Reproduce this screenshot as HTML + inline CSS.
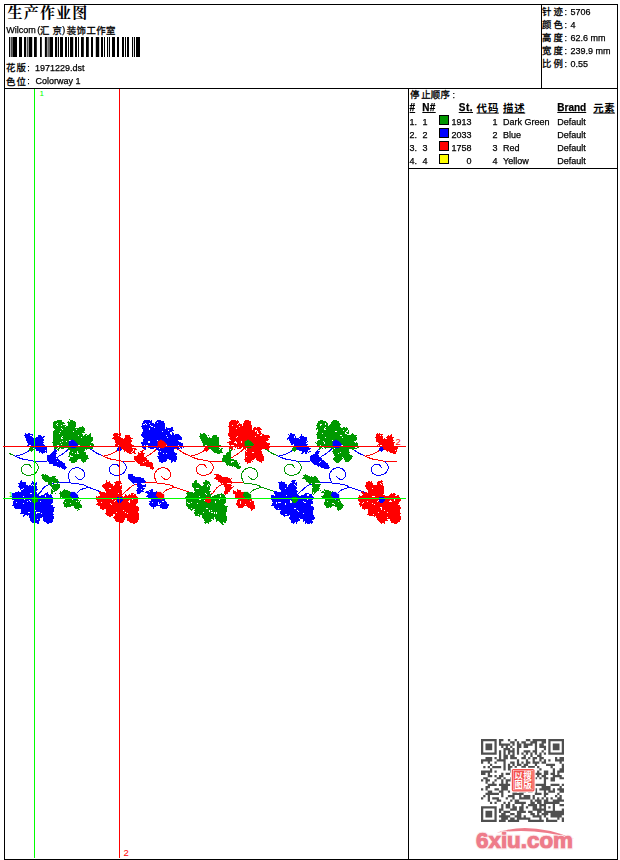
<!DOCTYPE html>
<html><head><meta charset="utf-8"><title>Production Worksheet</title>
<style>
html,body{margin:0;padding:0;background:#fff;}
body{width:620px;height:860px;position:relative;overflow:hidden;font-family:"Liberation Sans",sans-serif;}
svg.main{position:absolute;left:0;top:0;}
.t{position:absolute;white-space:pre;font-family:"Liberation Sans",sans-serif;-webkit-text-stroke:0.25px currentColor;}
#txt{position:absolute;left:0;top:0;width:620px;height:860px;will-change:transform;}
</style></head><body>
<svg class="main" width="620" height="860" viewBox="0 0 620 860">
<defs><filter id="rough" x="0" y="400" width="420" height="140" filterUnits="userSpaceOnUse"><feTurbulence type="fractalNoise" baseFrequency="0.45" numOctaves="1" seed="4" result="n"/><feDisplacementMap in="SourceGraphic" in2="n" scale="4.2" xChannelSelector="R" yChannelSelector="G" result="d"/><feComponentTransfer in="d"><feFuncA type="discrete" tableValues="0 1"/></feComponentTransfer></filter><pattern id="spk" width="48" height="48" patternUnits="userSpaceOnUse"><g fill="#fff"><rect x="20" y="9" width="1" height="1"/><rect x="21" y="10" width="1" height="1"/><rect x="3" y="4" width="1" height="1"/><rect x="6" y="23" width="1" height="1"/><rect x="32" y="13" width="1" height="1"/><rect x="33" y="14" width="1" height="1"/><rect x="27" y="26" width="1" height="1"/><rect x="28" y="27" width="1" height="1"/><rect x="5" y="35" width="1" height="1"/><rect x="6" y="36" width="1" height="1"/><rect x="36" y="7" width="1" height="1"/><rect x="40" y="40" width="1" height="1"/><rect x="3" y="36" width="1" height="1"/><rect x="3" y="14" width="1" height="1"/><rect x="4" y="15" width="1" height="1"/><rect x="8" y="18" width="1" height="1"/><rect x="9" y="19" width="1" height="1"/><rect x="34" y="7" width="1" height="1"/><rect x="35" y="43" width="1" height="1"/><rect x="36" y="44" width="1" height="1"/><rect x="37" y="36" width="1" height="1"/><rect x="23" y="6" width="1" height="1"/><rect x="4" y="36" width="1" height="1"/><rect x="5" y="37" width="1" height="1"/><rect x="13" y="31" width="1" height="1"/><rect x="27" y="20" width="1" height="1"/><rect x="29" y="23" width="1" height="1"/><rect x="30" y="24" width="1" height="1"/><rect x="11" y="44" width="1" height="1"/><rect x="5" y="36" width="1" height="1"/><rect x="6" y="37" width="1" height="1"/><rect x="31" y="21" width="1" height="1"/><rect x="18" y="38" width="1" height="1"/><rect x="7" y="32" width="1" height="1"/><rect x="8" y="33" width="1" height="1"/><rect x="21" y="9" width="1" height="1"/><rect x="26" y="2" width="1" height="1"/><rect x="4" y="35" width="1" height="1"/><rect x="20" y="21" width="1" height="1"/><rect x="38" y="31" width="1" height="1"/><rect x="29" y="4" width="1" height="1"/><rect x="17" y="30" width="1" height="1"/><rect x="4" y="3" width="1" height="1"/><rect x="19" y="41" width="1" height="1"/><rect x="43" y="28" width="1" height="1"/><rect x="44" y="29" width="1" height="1"/><rect x="24" y="42" width="1" height="1"/><rect x="25" y="43" width="1" height="1"/><rect x="29" y="22" width="1" height="1"/><rect x="30" y="23" width="1" height="1"/><rect x="7" y="31" width="1" height="1"/><rect x="8" y="32" width="1" height="1"/><rect x="18" y="8" width="1" height="1"/><rect x="25" y="25" width="1" height="1"/><rect x="31" y="5" width="1" height="1"/><rect x="32" y="6" width="1" height="1"/><rect x="25" y="35" width="1" height="1"/><rect x="26" y="36" width="1" height="1"/><rect x="8" y="27" width="1" height="1"/><rect x="17" y="45" width="1" height="1"/><rect x="18" y="46" width="1" height="1"/><rect x="22" y="43" width="1" height="1"/><rect x="14" y="9" width="1" height="1"/><rect x="15" y="10" width="1" height="1"/><rect x="9" y="14" width="1" height="1"/><rect x="0" y="31" width="1" height="1"/><rect x="11" y="16" width="1" height="1"/><rect x="12" y="17" width="1" height="1"/><rect x="9" y="26" width="1" height="1"/><rect x="39" y="36" width="1" height="1"/><rect x="40" y="37" width="1" height="1"/><rect x="8" y="44" width="1" height="1"/><rect x="39" y="41" width="1" height="1"/><rect x="3" y="29" width="1" height="1"/><rect x="43" y="35" width="1" height="1"/><rect x="44" y="36" width="1" height="1"/><rect x="25" y="25" width="1" height="1"/><rect x="26" y="26" width="1" height="1"/><rect x="40" y="25" width="1" height="1"/><rect x="41" y="26" width="1" height="1"/><rect x="4" y="13" width="1" height="1"/><rect x="5" y="14" width="1" height="1"/><rect x="7" y="21" width="1" height="1"/><rect x="6" y="0" width="1" height="1"/><rect x="34" y="6" width="1" height="1"/></g></pattern></defs>
<rect x="4" y="4" width="614" height="1" fill="#000"/>
<rect x="4" y="859" width="614" height="1" fill="#000"/>
<rect x="4" y="4" width="1" height="856" fill="#000"/>
<rect x="617" y="4" width="1" height="856" fill="#000"/>
<rect x="4" y="88" width="614" height="1" fill="#000"/>
<rect x="541" y="4" width="1" height="85" fill="#000"/>
<rect x="408" y="88" width="1" height="772" fill="#000"/>
<rect x="408" y="168" width="210" height="1" fill="#000"/>
<g fill="#000"><rect x="9" y="37" width="1.00" height="20"/><rect x="10.7" y="37" width="1.00" height="20"/><rect x="12.4" y="37" width="4.60" height="20"/><rect x="19" y="37" width="3.00" height="20"/><rect x="24" y="37" width="2.00" height="20"/><rect x="26.8" y="37" width="0.90" height="20"/><rect x="28.6" y="37" width="3.60" height="20"/><rect x="34" y="37" width="2.80" height="20"/><rect x="40" y="37" width="1.80" height="20"/><rect x="44.9" y="37" width="2.00" height="20"/><rect x="47.6" y="37" width="1.00" height="20"/><rect x="49.4" y="37" width="3.60" height="20"/><rect x="55" y="37" width="2.20" height="20"/><rect x="58" y="37" width="1.00" height="20"/><rect x="60" y="37" width="3.00" height="20"/><rect x="65" y="37" width="2.00" height="20"/><rect x="68" y="37" width="1.00" height="20"/><rect x="70" y="37" width="3.20" height="20"/><rect x="75" y="37" width="2.00" height="20"/><rect x="78" y="37" width="1.00" height="20"/><rect x="81" y="37" width="2.80" height="20"/><rect x="86" y="37" width="2.80" height="20"/><rect x="91" y="37" width="2.00" height="20"/><rect x="95.8" y="37" width="3.40" height="20"/><rect x="101" y="37" width="2.00" height="20"/><rect x="104" y="37" width="1.00" height="20"/><rect x="107" y="37" width="1.10" height="20"/><rect x="109" y="37" width="1.00" height="20"/><rect x="112" y="37" width="3.00" height="20"/><rect x="117" y="37" width="2.00" height="20"/><rect x="122" y="37" width="2.00" height="20"/><rect x="125" y="37" width="1.00" height="20"/><rect x="127" y="37" width="2.00" height="20"/><rect x="132" y="37" width="1.10" height="20"/><rect x="134" y="37" width="1.00" height="20"/><rect x="136" y="37" width="4.00" height="20"/></g>
<g><title>生产作业图</title><text x="7.5 23.7 39.9 56.1 72.3" y="17.8" font-family="'Liberation Serif','Noto Serif CJK SC',serif" font-weight="bold" font-size="15" fill="#000">生产作业图</text></g>
<g><title>汇京</title><text x="40.1 52.6" y="33.6" font-family="'Liberation Sans','Noto Sans CJK SC',sans-serif" font-size="9.4" fill="#000" stroke="#000" stroke-width="0.3">汇京</text></g>
<g><title>装饰工作室</title><text x="66.7 76.55 86.4 96.25 106.1" y="33.6" font-family="'Liberation Sans','Noto Sans CJK SC',sans-serif" font-size="9.4" fill="#000" stroke="#000" stroke-width="0.3">装饰工作室</text></g>
<g><title>花版</title><text x="6.1 16.4" y="71.2" font-family="'Liberation Sans','Noto Sans CJK SC',sans-serif" font-size="9.4" fill="#000" stroke="#000" stroke-width="0.3">花版</text></g>
<g><title>色位</title><text x="6.1 16.4" y="84.7" font-family="'Liberation Sans','Noto Sans CJK SC',sans-serif" font-size="9.4" fill="#000" stroke="#000" stroke-width="0.3">色位</text></g>
<g><title>针迹</title><text x="542.1 553.4" y="14.5" font-family="'Liberation Sans','Noto Sans CJK SC',sans-serif" font-size="9.4" fill="#000" stroke="#000" stroke-width="0.3">针迹</text></g>
<g><title>颜色</title><text x="542.1 553.4" y="27.5" font-family="'Liberation Sans','Noto Sans CJK SC',sans-serif" font-size="9.4" fill="#000" stroke="#000" stroke-width="0.3">颜色</text></g>
<g><title>高度</title><text x="542.1 553.4" y="40.6" font-family="'Liberation Sans','Noto Sans CJK SC',sans-serif" font-size="9.4" fill="#000" stroke="#000" stroke-width="0.3">高度</text></g>
<g><title>宽度</title><text x="542.1 553.4" y="53.7" font-family="'Liberation Sans','Noto Sans CJK SC',sans-serif" font-size="9.4" fill="#000" stroke="#000" stroke-width="0.3">宽度</text></g>
<g><title>比例</title><text x="542.1 553.4" y="67" font-family="'Liberation Sans','Noto Sans CJK SC',sans-serif" font-size="9.4" fill="#000" stroke="#000" stroke-width="0.3">比例</text></g>
<g><title>停止顺序</title><text x="409.9 421.3 430.7 440.6" y="98.3" font-family="'Liberation Sans','Noto Sans CJK SC',sans-serif" font-size="9.4" fill="#000" stroke="#000" stroke-width="0.3">停止顺序</text></g>
<g><title>代码</title><text x="476.6 487.9" y="111.5" font-family="'Liberation Sans','Noto Sans CJK SC',sans-serif" font-weight="bold" font-size="10.4" fill="#000">代码</text></g>
<rect x="476.6" y="112.6" width="22.2" height="1" fill="#000"/>
<g><title>描述</title><text x="503 514.3" y="111.5" font-family="'Liberation Sans','Noto Sans CJK SC',sans-serif" font-weight="bold" font-size="10.4" fill="#000">描述</text></g>
<rect x="503.0" y="112.6" width="22.2" height="1" fill="#000"/>
<g><title>元素</title><text x="593.3 604.3" y="111.5" font-family="'Liberation Sans','Noto Sans CJK SC',sans-serif" font-weight="bold" font-size="10.4" fill="#000">元素</text></g>
<rect x="593.3" y="112.6" width="21.6" height="1" fill="#000"/>
<rect x="439" y="115" width="10" height="10" fill="#000"/>
<rect x="440" y="116" width="8" height="8" fill="#009600"/>
<rect x="439" y="128" width="10" height="10" fill="#000"/>
<rect x="440" y="129" width="8" height="8" fill="#0000ff"/>
<rect x="439" y="141" width="10" height="10" fill="#000"/>
<rect x="440" y="142" width="8" height="8" fill="#ff0000"/>
<rect x="439" y="154" width="10" height="10" fill="#000"/>
<rect x="440" y="155" width="8" height="8" fill="#ffff00"/>
<g shape-rendering="crispEdges"><g transform="translate(5,410)"><path d="M4.2,43.4L9.1,45.5" fill="none" stroke="#009900" stroke-width="1"/><path d="M9.1,45.5C10.3,46.0 13.8,47.9 16.3,48.7C18.9,49.5 21.7,49.8 24.4,50.3C27.1,50.8 29.6,51.4 32.5,51.5C35.5,51.6 40.5,51.1 42.1,51.0" fill="none" stroke="#0000ff" stroke-width="1"/><path d="M10.7,45.9C11.9,45.6 15.7,45.0 17.9,44.2C20.0,43.4 22.1,42.0 23.6,41.0C25.1,40.0 26.3,38.7 26.8,38.2" fill="none" stroke="#0000ff" stroke-width="1"/><path d="M29.9,51.5C30.4,52.1 32.2,54.0 32.8,55.1C33.3,56.2 33.5,57.2 33.2,58.4C32.9,59.6 32.1,61.3 31.1,62.4C30.1,63.5 28.6,64.3 27.1,64.8C25.6,65.3 23.9,65.9 22.3,65.6C20.8,65.3 18.8,64.3 17.8,63.2C16.9,62.1 16.5,60.1 16.6,58.8C16.7,57.4 17.7,55.9 18.6,55.1C19.6,54.3 21.2,54.0 22.3,54.1C23.4,54.2 24.8,55.2 25.5,55.9C26.2,56.6 26.3,57.8 26.5,58.2" fill="none" stroke="#009900" stroke-width="1"/><path d="M50.6,48.2C51.4,47.7 53.6,46.5 55.4,45.4C57.1,44.2 59.5,42.6 61.1,41.3C62.7,39.9 63.9,38.4 65.1,37.3C66.2,36.2 67.5,35.0 68.0,34.5" fill="none" stroke="#0000ff" stroke-width="1"/><path d="M32.4,85.0C33.0,84.5 34.7,83.0 35.7,81.8C36.7,80.6 37.2,79.2 38.3,78.1C39.4,77.0 40.7,76.1 42.3,75.3C43.9,74.5 45.7,73.9 47.7,73.4C49.7,72.9 51.2,72.3 54.2,72.2C57.2,72.1 62.4,72.7 65.5,73.0C68.6,73.3 70.4,73.5 72.7,73.8C75.0,74.1 77.3,74.4 79.2,75.0C81.1,75.6 81.1,76.2 84.0,77.4C86.9,78.6 91.8,80.3 96.8,82.3C101.8,84.3 111.1,88.2 114.0,89.4" fill="none" stroke="#0000ff" stroke-width="1"/><path d="M71.9,83.1C72.3,82.7 73.4,81.3 74.3,80.6C75.2,79.9 76.2,79.5 77.5,79.0C78.8,78.5 81.0,78.0 82.4,77.8C83.8,77.6 85.2,77.6 85.8,77.6" fill="none" stroke="#0000ff" stroke-width="1"/><path d="M65.5,73.0C65.2,72.2 64.1,69.9 63.8,68.5C63.4,67.1 63.1,65.8 63.4,64.5C63.7,63.2 64.5,61.6 65.5,60.5C66.5,59.4 68.0,58.5 69.5,58.1C71.0,57.7 72.9,57.7 74.3,58.1C75.7,58.5 77.1,59.4 78.0,60.5C78.9,61.6 79.7,63.3 79.8,64.5C79.9,65.7 79.2,66.9 78.4,67.7C77.6,68.5 76.1,69.5 75.1,69.6C74.1,69.7 73.1,69.0 72.3,68.5C71.5,68.0 70.6,66.8 70.3,66.5" fill="none" stroke="#0000ff" stroke-width="1"/></g><g transform="translate(93,410)"><path d="M-18.6,34.0C-17.7,34.1 -16.1,33.9 -13.4,34.7C-10.7,35.5 -5.5,37.5 -2.6,39.0C0.3,40.5 2.2,42.3 4.2,43.4C6.2,44.5 8.3,45.1 9.1,45.5" fill="none" stroke="#0000ff" stroke-width="1"/><path d="M9.1,45.5C10.3,46.0 13.8,47.9 16.3,48.7C18.9,49.5 21.7,49.8 24.4,50.3C27.1,50.8 29.6,51.4 32.5,51.5C35.5,51.6 40.5,51.1 42.1,51.0" fill="none" stroke="#ff0000" stroke-width="1"/><path d="M10.7,45.9C11.9,45.6 15.7,45.0 17.9,44.2C20.0,43.4 22.1,42.0 23.6,41.0C25.1,40.0 26.3,38.7 26.8,38.2" fill="none" stroke="#ff0000" stroke-width="1"/><path d="M29.9,51.5C30.4,52.1 32.2,54.0 32.8,55.1C33.3,56.2 33.5,57.2 33.2,58.4C32.9,59.6 32.1,61.3 31.1,62.4C30.1,63.5 28.6,64.3 27.1,64.8C25.6,65.3 23.9,65.9 22.3,65.6C20.8,65.3 18.8,64.3 17.8,63.2C16.9,62.1 16.5,60.1 16.6,58.8C16.7,57.4 17.7,55.9 18.6,55.1C19.6,54.3 21.2,54.0 22.3,54.1C23.4,54.2 24.8,55.2 25.5,55.9C26.2,56.6 26.3,57.8 26.5,58.2" fill="none" stroke="#0000ff" stroke-width="1"/><path d="M50.6,48.2C51.4,47.7 53.6,46.5 55.4,45.4C57.1,44.2 59.5,42.6 61.1,41.3C62.7,39.9 63.9,38.4 65.1,37.3C66.2,36.2 67.5,35.0 68.0,34.5" fill="none" stroke="#ff0000" stroke-width="1"/><path d="M29.2,85.0C29.8,84.5 31.3,83.0 32.5,81.8C33.7,80.6 35.2,79.2 36.5,78.1C37.8,77.0 38.9,76.1 40.5,75.3C42.1,74.5 43.9,73.9 45.9,73.4C47.9,72.9 49.4,72.3 52.4,72.2C55.4,72.1 60.6,72.7 63.7,73.0C66.8,73.3 68.6,73.5 70.9,73.8C73.2,74.1 75.5,74.4 77.4,75.0C79.3,75.6 79.0,76.2 82.2,77.4C85.4,78.6 91.5,80.3 96.8,82.3C102.1,84.3 111.1,88.2 114.0,89.4" fill="none" stroke="#ff0000" stroke-width="1"/><path d="M70.1,83.1C70.5,82.7 71.6,81.3 72.5,80.6C73.4,79.9 74.4,79.5 75.7,79.0C77.0,78.5 79.2,78.0 80.6,77.8C82.0,77.6 83.4,77.6 84.0,77.6" fill="none" stroke="#ff0000" stroke-width="1"/><path d="M63.7,73.0C63.4,72.2 62.4,69.9 62.0,68.5C61.6,67.1 61.3,65.8 61.6,64.5C61.9,63.2 62.7,61.6 63.7,60.5C64.7,59.4 66.2,58.5 67.7,58.1C69.2,57.7 71.1,57.7 72.5,58.1C73.9,58.5 75.3,59.4 76.2,60.5C77.1,61.6 77.9,63.3 78.0,64.5C78.1,65.7 77.4,66.9 76.6,67.7C75.8,68.5 74.3,69.5 73.3,69.6C72.3,69.7 71.3,69.0 70.5,68.5C69.7,68.0 68.8,66.8 68.5,66.5" fill="none" stroke="#ff0000" stroke-width="1"/></g><g transform="translate(180,410)"><path d="M-18.6,34.0C-17.7,34.1 -16.1,33.9 -13.4,34.7C-10.7,35.5 -5.5,37.5 -2.6,39.0C0.3,40.5 2.2,42.3 4.2,43.4C6.2,44.5 8.3,45.1 9.1,45.5" fill="none" stroke="#ff0000" stroke-width="1"/><path d="M9.1,45.5C10.3,46.0 13.8,47.9 16.3,48.7C18.9,49.5 21.7,49.8 24.4,50.3C27.1,50.8 29.6,51.4 32.5,51.5C35.5,51.6 40.5,51.1 42.1,51.0" fill="none" stroke="#ff0000" stroke-width="1"/><path d="M10.7,45.9C11.9,45.6 15.7,45.0 17.9,44.2C20.0,43.4 22.1,42.0 23.6,41.0C25.1,40.0 26.3,38.7 26.8,38.2" fill="none" stroke="#ff0000" stroke-width="1"/><path d="M29.9,51.5C30.4,52.1 32.2,54.0 32.8,55.1C33.3,56.2 33.5,57.2 33.2,58.4C32.9,59.6 32.1,61.3 31.1,62.4C30.1,63.5 28.6,64.3 27.1,64.8C25.6,65.3 23.9,65.9 22.3,65.6C20.8,65.3 18.8,64.3 17.8,63.2C16.9,62.1 16.5,60.1 16.6,58.8C16.7,57.4 17.7,55.9 18.6,55.1C19.6,54.3 21.2,54.0 22.3,54.1C23.4,54.2 24.8,55.2 25.5,55.9C26.2,56.6 26.3,57.8 26.5,58.2" fill="none" stroke="#ff0000" stroke-width="1"/><path d="M50.6,48.2C51.4,47.7 53.6,46.5 55.4,45.4C57.1,44.2 59.5,42.6 61.1,41.3C62.7,39.9 63.9,38.4 65.1,37.3C66.2,36.2 67.5,35.0 68.0,34.5" fill="none" stroke="#ff0000" stroke-width="1"/><path d="M63.7,73.0C64.9,73.1 68.6,73.5 70.9,73.8C73.2,74.1 75.5,74.4 77.4,75.0C79.3,75.6 79.0,76.2 82.2,77.4C85.4,78.6 91.5,80.3 96.8,82.3C102.1,84.3 111.1,88.2 114.0,89.4" fill="none" stroke="#009900" stroke-width="1"/><path d="M30.6,85.0C31.1,84.5 32.9,83.0 33.9,81.8C34.9,80.6 35.4,79.2 36.5,78.1C37.6,77.0 38.9,76.1 40.5,75.3C42.1,74.5 43.9,73.9 45.9,73.4C47.9,72.9 49.4,72.3 52.4,72.2C55.4,72.1 61.8,72.9 63.7,73.0" fill="none" stroke="#ff0000" stroke-width="1"/><path d="M70.1,83.1C70.5,82.7 71.6,81.3 72.5,80.6C73.4,79.9 74.4,79.5 75.7,79.0C77.0,78.5 79.2,78.0 80.6,77.8C82.0,77.6 83.4,77.6 84.0,77.6" fill="none" stroke="#009900" stroke-width="1"/><path d="M63.7,73.0C63.4,72.2 62.4,69.9 62.0,68.5C61.6,67.1 61.3,65.8 61.6,64.5C61.9,63.2 62.7,61.6 63.7,60.5C64.7,59.4 66.2,58.5 67.7,58.1C69.2,57.7 71.1,57.7 72.5,58.1C73.9,58.5 75.3,59.4 76.2,60.5C77.1,61.6 77.9,63.3 78.0,64.5C78.1,65.7 77.4,66.9 76.6,67.7C75.8,68.5 74.3,69.5 73.3,69.6C72.3,69.7 71.3,69.0 70.5,68.5C69.7,68.0 68.8,66.8 68.5,66.5" fill="none" stroke="#009900" stroke-width="1"/></g><g transform="translate(268,410)"><path d="M-18.6,34.0C-17.7,34.1 -16.1,33.9 -13.4,34.7C-10.7,35.5 -5.5,37.5 -2.6,39.0C0.3,40.5 2.2,42.3 4.2,43.4C6.2,44.5 8.3,45.1 9.1,45.5" fill="none" stroke="#009900" stroke-width="1"/><path d="M9.1,45.5C10.3,46.0 13.8,47.9 16.3,48.7C18.9,49.5 21.7,49.8 24.4,50.3C27.1,50.8 29.6,51.4 32.5,51.5C35.5,51.6 40.5,51.1 42.1,51.0" fill="none" stroke="#0000ff" stroke-width="1"/><path d="M10.7,45.9C11.9,45.6 15.7,45.0 17.9,44.2C20.0,43.4 22.1,42.0 23.6,41.0C25.1,40.0 26.3,38.7 26.8,38.2" fill="none" stroke="#0000ff" stroke-width="1"/><path d="M29.9,51.5C30.4,52.1 32.2,54.0 32.8,55.1C33.3,56.2 33.5,57.2 33.2,58.4C32.9,59.6 32.1,61.3 31.1,62.4C30.1,63.5 28.6,64.3 27.1,64.8C25.6,65.3 23.9,65.9 22.3,65.6C20.8,65.3 18.8,64.3 17.8,63.2C16.9,62.1 16.5,60.1 16.6,58.8C16.7,57.4 17.7,55.9 18.6,55.1C19.6,54.3 21.2,54.0 22.3,54.1C23.4,54.2 24.8,55.2 25.5,55.9C26.2,56.6 26.3,57.8 26.5,58.2" fill="none" stroke="#009900" stroke-width="1"/><path d="M50.6,48.2C51.4,47.7 53.6,46.5 55.4,45.4C57.1,44.2 59.5,42.6 61.1,41.3C62.7,39.9 63.9,38.4 65.1,37.3C66.2,36.2 67.5,35.0 68.0,34.5" fill="none" stroke="#0000ff" stroke-width="1"/><path d="M29.2,85.0C29.8,84.5 31.3,83.0 32.5,81.8C33.7,80.6 35.2,79.2 36.5,78.1C37.8,77.0 38.9,76.1 40.5,75.3C42.1,74.5 43.9,73.9 45.9,73.4C47.9,72.9 49.4,72.3 52.4,72.2C55.4,72.1 60.6,72.7 63.7,73.0C66.8,73.3 68.6,73.5 70.9,73.8C73.2,74.1 75.5,74.4 77.4,75.0C79.3,75.6 79.0,76.2 82.2,77.4C85.4,78.6 91.5,80.3 96.8,82.3C102.1,84.3 111.1,88.2 114.0,89.4" fill="none" stroke="#0000ff" stroke-width="1"/><path d="M70.1,83.1C70.5,82.7 71.6,81.3 72.5,80.6C73.4,79.9 74.4,79.5 75.7,79.0C77.0,78.5 79.2,78.0 80.6,77.8C82.0,77.6 83.4,77.6 84.0,77.6" fill="none" stroke="#0000ff" stroke-width="1"/><path d="M63.7,73.0C63.4,72.2 62.4,69.9 62.0,68.5C61.6,67.1 61.3,65.8 61.6,64.5C61.9,63.2 62.7,61.6 63.7,60.5C64.7,59.4 66.2,58.5 67.7,58.1C69.2,57.7 71.1,57.7 72.5,58.1C73.9,58.5 75.3,59.4 76.2,60.5C77.1,61.6 77.9,63.3 78.0,64.5C78.1,65.7 77.4,66.9 76.6,67.7C75.8,68.5 74.3,69.5 73.3,69.6C72.3,69.7 71.3,69.0 70.5,68.5C69.7,68.0 68.8,66.8 68.5,66.5" fill="none" stroke="#0000ff" stroke-width="1"/></g><g transform="translate(355,410)"><path d="M-18.6,34.0C-17.7,34.1 -16.1,33.9 -13.4,34.7C-10.7,35.5 -5.5,37.5 -2.6,39.0C0.3,40.5 2.2,42.3 4.2,43.4C6.2,44.5 8.3,45.1 9.1,45.5" fill="none" stroke="#0000ff" stroke-width="1"/><path d="M9.1,45.5C10.3,46.0 13.8,47.9 16.3,48.7C18.9,49.5 21.7,49.8 24.4,50.3C27.1,50.8 29.6,51.4 32.5,51.5C35.5,51.6 40.5,51.1 42.1,51.0" fill="none" stroke="#ff0000" stroke-width="1"/><path d="M10.7,45.9C11.9,45.6 15.7,45.0 17.9,44.2C20.0,43.4 22.1,42.0 23.6,41.0C25.1,40.0 26.3,38.7 26.8,38.2" fill="none" stroke="#ff0000" stroke-width="1"/><path d="M29.9,51.5C30.4,52.1 32.2,54.0 32.8,55.1C33.3,56.2 33.5,57.2 33.2,58.4C32.9,59.6 32.1,61.3 31.1,62.4C30.1,63.5 28.6,64.3 27.1,64.8C25.6,65.3 23.9,65.9 22.3,65.6C20.8,65.3 18.8,64.3 17.8,63.2C16.9,62.1 16.5,60.1 16.6,58.8C16.7,57.4 17.7,55.9 18.6,55.1C19.6,54.3 21.2,54.0 22.3,54.1C23.4,54.2 24.8,55.2 25.5,55.9C26.2,56.6 26.3,57.8 26.5,58.2" fill="none" stroke="#0000ff" stroke-width="1"/></g></g>
<g filter="url(#rough)"><g id="shp" shape-rendering="crispEdges"><g transform="translate(5,410)"><path d="M20.4,24.5L23.6,22.9L26.8,24.5L30.4,29.3L32.5,25.7L35.7,25.1L38.9,27.7L39.3,31.7L38.1,34.2L40.5,35.8L42.9,38.2L42.1,42.2L38.9,43.8L35.7,43.4L32.5,41.4L28.0,38.2L23.6,35.8L21.6,31.3L20.0,27.3Z" fill="#0000ff" stroke="#0000ff" stroke-width="0.5" stroke-linejoin="round"/><path d="M13.3,75.0L14.5,72.6L16.8,71.1L19.5,72.3L21.8,74.2L23.8,76.9L24.4,75.7L24.9,73.4L26.5,71.5L29.2,70.9L31.9,72.3L32.4,75.0L31.9,78.1L32.3,81.2L31.9,83.5L32.7,85.4L34.2,86.2L36.9,84.6L39.2,84.6L40.8,83.5L43.1,83.1L44.7,83.9L46.6,84.6L47.8,86.6L48.1,90.5L47.4,92.8L46.2,94.3L48.1,95.9L49.3,98.2L48.5,101.3L47.8,103.6L48.9,106.7L49.3,109.0L47.8,112.1L44.7,113.7L42.3,113.7L39.2,111.4L36.9,109.0L35.4,106.7L35.0,108.3L35.0,110.2L33.0,112.5L29.9,113.7L26.9,112.5L24.9,110.2L24.5,107.5L23.4,105.2L22.2,105.9L19.9,106.7L17.6,105.9L16.0,103.6L16.4,101.3L15.6,98.6L12.9,99.7L10.6,99.0L8.7,96.6L7.5,94.3L7.9,92.0L6.7,89.7L6.3,86.6L7.5,83.9L9.8,82.3L12.1,81.9L14.5,82.3L16.4,83.3L16.0,81.2L14.9,78.8L13.3,76.5Z" fill="#0000ff" stroke="#0000ff" stroke-width="0.5" stroke-linejoin="round"/><path d="M51.0,38.1L51.4,47.8L49.8,49.4L42.1,50.2L42.5,46.2L46.6,42.9Z" fill="#0000ff" stroke="#0000ff" stroke-width="0.5" stroke-linejoin="round"/><path d="M42.1,50.2L50.6,48.6L53.8,49.4L59.5,53.4L61.1,57.5L60.3,59.9L56.2,58.3L51.4,56.2L47.4,55.0L44.1,52.6Z" fill="#0000ff" stroke="#0000ff" stroke-width="0.5" stroke-linejoin="round"/><path d="M47.9,13.8L49.0,11.1L52.1,9.9L56.0,10.7L59.2,13.5L60.5,15.5L61.2,18.0L61.8,13.0L63.8,10.3L66.9,9.9L69.9,11.1L71.5,14.2L71.6,16.5L71.2,19.5L73.8,17.5L76.9,16.9L79.6,18.5L80.4,21.2L79.8,23.5L78.2,26.0L82.3,23.9L86.2,24.6L88.5,27.0L88.1,30.1L85.2,32.0L89.3,33.5L89.3,37.0L87.8,39.0L84.7,38.6L82.3,39.0L79.7,41.0L81.6,43.6L83.1,46.7L83.1,49.8L80.8,52.1L78.5,52.5L76.1,50.6L74.6,49.0L73.4,48.0L72.3,51.4L69.2,52.9L66.1,52.1L64.1,49.8L63.8,45.2L63.8,40.5L63.0,38.2L59.9,37.4L58.7,38.8L57.6,37.2L56.4,39.4L55.2,37.4L53.8,39.9L52.4,37.6L51.2,39.7L49.8,38.2L47.9,35.1L47.5,32.0L49.6,30.2L47.5,25.8L47.9,22.7L49.2,19.6L47.5,16.5Z" fill="#009900" stroke="#009900" stroke-width="0.5" stroke-linejoin="round"/><path d="M36.0,64.9L38.8,64.1L42.9,66.1L46.1,67.3L49.3,66.9L53.0,69.8L54.2,73.0L47.7,73.4L42.9,74.2L40.5,72.6L37.6,69.4Z" fill="#009900" stroke="#009900" stroke-width="0.5" stroke-linejoin="round"/><path d="M46.1,74.2L54.6,74.2L55.0,75.8L53.4,79.0L50.1,82.3L46.1,84.7Z" fill="#009900" stroke="#009900" stroke-width="0.5" stroke-linejoin="round"/><path d="M54.0,83.9L55.4,80.6L59.4,79.4L63.0,80.6L65.9,82.3L71.9,83.9L72.7,87.9L74.3,90.3L76.7,95.2L76.3,98.4L72.7,100.8L69.5,97.6L67.9,95.2L65.5,96.8L62.2,97.6L58.6,95.6L57.8,92.7L59.8,89.5L58.2,87.9L55.0,86.7Z" fill="#009900" stroke="#009900" stroke-width="0.5" stroke-linejoin="round"/></g><g transform="translate(93,410)"><path d="M20.4,24.5L23.6,22.9L26.8,24.5L30.4,29.3L32.5,25.7L35.7,25.1L38.9,27.7L39.3,31.7L38.1,34.2L40.5,35.8L42.9,38.2L42.1,42.2L38.9,43.8L35.7,43.4L32.5,41.4L28.0,38.2L23.6,35.8L21.6,31.3L20.0,27.3Z" fill="#ff0000" stroke="#ff0000" stroke-width="0.5" stroke-linejoin="round"/><path d="M10.1,75.0L11.3,72.6L13.6,71.1L16.3,72.3L18.6,74.2L20.6,76.9L21.2,75.7L21.7,73.4L23.3,71.5L26.0,70.9L28.7,72.3L29.2,75.0L28.7,78.1L29.1,81.2L28.7,83.5L29.5,85.4L31.0,86.2L33.7,84.6L36.0,84.6L37.6,83.5L39.9,83.1L41.5,83.9L43.4,84.6L44.6,86.6L44.9,90.5L44.2,92.8L43.0,94.3L44.9,95.9L46.1,98.2L45.3,101.3L44.6,103.6L45.7,106.7L46.1,109.0L44.6,112.1L41.5,113.7L39.1,113.7L36.0,111.4L33.7,109.0L32.2,106.7L31.8,108.3L31.8,110.2L29.8,112.5L26.7,113.7L23.7,112.5L21.7,110.2L21.3,107.5L20.2,105.2L19.0,105.9L16.7,106.7L14.4,105.9L12.8,103.6L13.2,101.3L12.4,98.6L9.7,99.7L7.4,99.0L5.5,96.6L4.3,94.3L4.7,92.0L3.5,89.7L3.1,86.6L4.3,83.9L6.6,82.3L8.9,81.9L11.3,82.3L13.2,83.3L12.8,81.2L11.7,78.8L10.1,76.5Z" fill="#ff0000" stroke="#ff0000" stroke-width="0.5" stroke-linejoin="round"/><path d="M51.0,38.1L51.4,47.8L49.8,49.4L42.1,50.2L42.5,46.2L46.6,42.9Z" fill="#ff0000" stroke="#ff0000" stroke-width="0.5" stroke-linejoin="round"/><path d="M42.1,50.2L50.6,48.6L53.8,49.4L59.5,53.4L61.1,57.5L60.3,59.9L56.2,58.3L51.4,56.2L47.4,55.0L44.1,52.6Z" fill="#ff0000" stroke="#ff0000" stroke-width="0.5" stroke-linejoin="round"/><path d="M48.7,13.8L49.8,11.1L52.9,9.9L56.8,10.7L60.0,13.5L61.3,15.5L62.0,18.0L62.6,13.0L64.6,10.3L67.7,9.9L70.7,11.1L72.3,14.2L72.4,16.5L72.0,19.5L74.6,17.5L77.7,16.9L80.4,18.5L81.2,21.2L80.6,23.5L79.0,26.0L83.1,23.9L87.0,24.6L89.3,27.0L88.9,30.1L86.0,32.0L90.1,33.5L90.1,37.0L88.6,39.0L85.5,38.6L83.1,39.0L80.5,41.0L82.4,43.6L83.9,46.7L83.9,49.8L81.6,52.1L79.3,52.5L76.9,50.6L75.4,49.0L74.2,48.0L73.1,51.4L70.0,52.9L66.9,52.1L64.9,49.8L64.6,45.2L64.6,40.5L63.8,38.2L60.7,37.4L59.5,38.8L58.4,37.2L57.2,39.4L56.0,37.4L54.6,39.9L53.2,37.6L52.0,39.7L50.6,38.2L48.7,35.1L48.3,32.0L50.4,30.2L48.3,25.8L48.7,22.7L50.0,19.6L48.3,16.5Z" fill="#0000ff" stroke="#0000ff" stroke-width="0.5" stroke-linejoin="round"/><path d="M34.2,64.9L37.0,64.1L41.1,66.1L44.3,67.3L47.5,66.9L51.2,69.8L52.4,73.0L45.9,73.4L41.1,74.2L38.7,72.6L35.8,69.4Z" fill="#0000ff" stroke="#0000ff" stroke-width="0.5" stroke-linejoin="round"/><path d="M44.3,74.2L52.8,74.2L53.2,75.8L51.6,79.0L48.3,82.3L44.3,84.7Z" fill="#0000ff" stroke="#0000ff" stroke-width="0.5" stroke-linejoin="round"/><path d="M52.2,83.9L53.6,80.6L57.6,79.4L61.2,80.6L64.1,82.3L70.1,83.9L70.9,87.9L72.5,90.3L74.9,95.2L74.5,98.4L70.9,100.8L67.7,97.6L66.1,95.2L63.7,96.8L60.4,97.6L56.8,95.6L56.0,92.7L58.0,89.5L56.4,87.9L53.2,86.7Z" fill="#0000ff" stroke="#0000ff" stroke-width="0.5" stroke-linejoin="round"/></g><g transform="translate(180,410)"><path d="M20.4,24.5L23.6,22.9L26.8,24.5L30.4,29.3L32.5,25.7L35.7,25.1L38.9,27.7L39.3,31.7L38.1,34.2L40.5,35.8L42.9,38.2L42.1,42.2L38.9,43.8L35.7,43.4L32.5,41.4L28.0,38.2L23.6,35.8L21.6,31.3L20.0,27.3Z" fill="#009900" stroke="#009900" stroke-width="0.5" stroke-linejoin="round"/><path d="M11.5,75.0L12.7,72.6L15.0,71.1L17.7,72.3L20.0,74.2L22.0,76.9L22.6,75.7L23.1,73.4L24.7,71.5L27.4,70.9L30.1,72.3L30.6,75.0L30.1,78.1L30.5,81.2L30.1,83.5L30.9,85.4L32.4,86.2L35.1,84.6L37.4,84.6L39.0,83.5L41.3,83.1L42.9,83.9L44.8,84.6L46.0,86.6L46.3,90.5L45.6,92.8L44.4,94.3L46.3,95.9L47.5,98.2L46.7,101.3L46.0,103.6L47.1,106.7L47.5,109.0L46.0,112.1L42.9,113.7L40.5,113.7L37.4,111.4L35.1,109.0L33.6,106.7L33.2,108.3L33.2,110.2L31.2,112.5L28.1,113.7L25.1,112.5L23.1,110.2L22.7,107.5L21.6,105.2L20.4,105.9L18.1,106.7L15.8,105.9L14.2,103.6L14.6,101.3L13.8,98.6L11.1,99.7L8.8,99.0L6.9,96.6L5.7,94.3L6.1,92.0L4.9,89.7L4.5,86.6L5.7,83.9L8.0,82.3L10.3,81.9L12.7,82.3L14.6,83.3L14.2,81.2L13.1,78.8L11.5,76.5Z" fill="#009900" stroke="#009900" stroke-width="0.5" stroke-linejoin="round"/><path d="M51.0,38.1L51.4,47.8L49.8,49.4L42.1,50.2L42.5,46.2L46.6,42.9Z" fill="#009900" stroke="#009900" stroke-width="0.5" stroke-linejoin="round"/><path d="M42.1,50.2L50.6,48.6L53.8,49.4L59.5,53.4L61.1,57.5L60.3,59.9L56.2,58.3L51.4,56.2L47.4,55.0L44.1,52.6Z" fill="#009900" stroke="#009900" stroke-width="0.5" stroke-linejoin="round"/><path d="M48.7,13.8L49.8,11.1L52.9,9.9L56.8,10.7L60.0,13.5L61.3,15.5L62.0,18.0L62.6,13.0L64.6,10.3L67.7,9.9L70.7,11.1L72.3,14.2L72.4,16.5L72.0,19.5L74.6,17.5L77.7,16.9L80.4,18.5L81.2,21.2L80.6,23.5L79.0,26.0L83.1,23.9L87.0,24.6L89.3,27.0L88.9,30.1L86.0,32.0L90.1,33.5L90.1,37.0L88.6,39.0L85.5,38.6L83.1,39.0L80.5,41.0L82.4,43.6L83.9,46.7L83.9,49.8L81.6,52.1L79.3,52.5L76.9,50.6L75.4,49.0L74.2,48.0L73.1,51.4L70.0,52.9L66.9,52.1L64.9,49.8L64.6,45.2L64.6,40.5L63.8,38.2L60.7,37.4L59.5,38.8L58.4,37.2L57.2,39.4L56.0,37.4L54.6,39.9L53.2,37.6L52.0,39.7L50.6,38.2L48.7,35.1L48.3,32.0L50.4,30.2L48.3,25.8L48.7,22.7L50.0,19.6L48.3,16.5Z" fill="#ff0000" stroke="#ff0000" stroke-width="0.5" stroke-linejoin="round"/><path d="M34.2,64.9L37.0,64.1L41.1,66.1L44.3,67.3L47.5,66.9L51.2,69.8L52.4,73.0L45.9,73.4L41.1,74.2L38.7,72.6L35.8,69.4Z" fill="#ff0000" stroke="#ff0000" stroke-width="0.5" stroke-linejoin="round"/><path d="M44.3,74.2L52.8,74.2L53.2,75.8L51.6,79.0L48.3,82.3L44.3,84.7Z" fill="#ff0000" stroke="#ff0000" stroke-width="0.5" stroke-linejoin="round"/><path d="M52.2,83.9L53.6,80.6L57.6,79.4L61.2,80.6L64.1,82.3L70.1,83.9L70.9,87.9L72.5,90.3L74.9,95.2L74.5,98.4L70.9,100.8L67.7,97.6L66.1,95.2L63.7,96.8L60.4,97.6L56.8,95.6L56.0,92.7L58.0,89.5L56.4,87.9L53.2,86.7Z" fill="#ff0000" stroke="#ff0000" stroke-width="0.5" stroke-linejoin="round"/></g><g transform="translate(268,410)"><path d="M20.4,24.5L23.6,22.9L26.8,24.5L30.4,29.3L32.5,25.7L35.7,25.1L38.9,27.7L39.3,31.7L38.1,34.2L40.5,35.8L42.9,38.2L42.1,42.2L38.9,43.8L35.7,43.4L32.5,41.4L28.0,38.2L23.6,35.8L21.6,31.3L20.0,27.3Z" fill="#0000ff" stroke="#0000ff" stroke-width="0.5" stroke-linejoin="round"/><path d="M10.1,75.0L11.3,72.6L13.6,71.1L16.3,72.3L18.6,74.2L20.6,76.9L21.2,75.7L21.7,73.4L23.3,71.5L26.0,70.9L28.7,72.3L29.2,75.0L28.7,78.1L29.1,81.2L28.7,83.5L29.5,85.4L31.0,86.2L33.7,84.6L36.0,84.6L37.6,83.5L39.9,83.1L41.5,83.9L43.4,84.6L44.6,86.6L44.9,90.5L44.2,92.8L43.0,94.3L44.9,95.9L46.1,98.2L45.3,101.3L44.6,103.6L45.7,106.7L46.1,109.0L44.6,112.1L41.5,113.7L39.1,113.7L36.0,111.4L33.7,109.0L32.2,106.7L31.8,108.3L31.8,110.2L29.8,112.5L26.7,113.7L23.7,112.5L21.7,110.2L21.3,107.5L20.2,105.2L19.0,105.9L16.7,106.7L14.4,105.9L12.8,103.6L13.2,101.3L12.4,98.6L9.7,99.7L7.4,99.0L5.5,96.6L4.3,94.3L4.7,92.0L3.5,89.7L3.1,86.6L4.3,83.9L6.6,82.3L8.9,81.9L11.3,82.3L13.2,83.3L12.8,81.2L11.7,78.8L10.1,76.5Z" fill="#0000ff" stroke="#0000ff" stroke-width="0.5" stroke-linejoin="round"/><path d="M51.0,38.1L51.4,47.8L49.8,49.4L42.1,50.2L42.5,46.2L46.6,42.9Z" fill="#0000ff" stroke="#0000ff" stroke-width="0.5" stroke-linejoin="round"/><path d="M42.1,50.2L50.6,48.6L53.8,49.4L59.5,53.4L61.1,57.5L60.3,59.9L56.2,58.3L51.4,56.2L47.4,55.0L44.1,52.6Z" fill="#0000ff" stroke="#0000ff" stroke-width="0.5" stroke-linejoin="round"/><path d="M48.7,13.8L49.8,11.1L52.9,9.9L56.8,10.7L60.0,13.5L61.3,15.5L62.0,18.0L62.6,13.0L64.6,10.3L67.7,9.9L70.7,11.1L72.3,14.2L72.4,16.5L72.0,19.5L74.6,17.5L77.7,16.9L80.4,18.5L81.2,21.2L80.6,23.5L79.0,26.0L83.1,23.9L87.0,24.6L89.3,27.0L88.9,30.1L86.0,32.0L90.1,33.5L90.1,37.0L88.6,39.0L85.5,38.6L83.1,39.0L80.5,41.0L82.4,43.6L83.9,46.7L83.9,49.8L81.6,52.1L79.3,52.5L76.9,50.6L75.4,49.0L74.2,48.0L73.1,51.4L70.0,52.9L66.9,52.1L64.9,49.8L64.6,45.2L64.6,40.5L63.8,38.2L60.7,37.4L59.5,38.8L58.4,37.2L57.2,39.4L56.0,37.4L54.6,39.9L53.2,37.6L52.0,39.7L50.6,38.2L48.7,35.1L48.3,32.0L50.4,30.2L48.3,25.8L48.7,22.7L50.0,19.6L48.3,16.5Z" fill="#009900" stroke="#009900" stroke-width="0.5" stroke-linejoin="round"/><path d="M34.2,64.9L37.0,64.1L41.1,66.1L44.3,67.3L47.5,66.9L51.2,69.8L52.4,73.0L45.9,73.4L41.1,74.2L38.7,72.6L35.8,69.4Z" fill="#009900" stroke="#009900" stroke-width="0.5" stroke-linejoin="round"/><path d="M44.3,74.2L52.8,74.2L53.2,75.8L51.6,79.0L48.3,82.3L44.3,84.7Z" fill="#009900" stroke="#009900" stroke-width="0.5" stroke-linejoin="round"/><path d="M52.2,83.9L53.6,80.6L57.6,79.4L61.2,80.6L64.1,82.3L70.1,83.9L70.9,87.9L72.5,90.3L74.9,95.2L74.5,98.4L70.9,100.8L67.7,97.6L66.1,95.2L63.7,96.8L60.4,97.6L56.8,95.6L56.0,92.7L58.0,89.5L56.4,87.9L53.2,86.7Z" fill="#009900" stroke="#009900" stroke-width="0.5" stroke-linejoin="round"/></g><g transform="translate(355,410)"><path d="M20.4,24.5L23.6,22.9L26.8,24.5L30.4,29.3L32.5,25.7L35.7,25.1L38.9,27.7L39.3,31.7L38.1,34.2L40.5,35.8L42.9,38.2L42.1,42.2L38.9,43.8L35.7,43.4L32.5,41.4L28.0,38.2L23.6,35.8L21.6,31.3L20.0,27.3Z" fill="#ff0000" stroke="#ff0000" stroke-width="0.5" stroke-linejoin="round"/><path d="M10.1,75.0L11.3,72.6L13.6,71.1L16.3,72.3L18.6,74.2L20.6,76.9L21.2,75.7L21.7,73.4L23.3,71.5L26.0,70.9L28.7,72.3L29.2,75.0L28.7,78.1L29.1,81.2L28.7,83.5L29.5,85.4L31.0,86.2L33.7,84.6L36.0,84.6L37.6,83.5L39.9,83.1L41.5,83.9L43.4,84.6L44.6,86.6L44.9,90.5L44.2,92.8L43.0,94.3L44.9,95.9L46.1,98.2L45.3,101.3L44.6,103.6L45.7,106.7L46.1,109.0L44.6,112.1L41.5,113.7L39.1,113.7L36.0,111.4L33.7,109.0L32.2,106.7L31.8,108.3L31.8,110.2L29.8,112.5L26.7,113.7L23.7,112.5L21.7,110.2L21.3,107.5L20.2,105.2L19.0,105.9L16.7,106.7L14.4,105.9L12.8,103.6L13.2,101.3L12.4,98.6L9.7,99.7L7.4,99.0L5.5,96.6L4.3,94.3L4.7,92.0L3.5,89.7L3.1,86.6L4.3,83.9L6.6,82.3L8.9,81.9L11.3,82.3L13.2,83.3L12.8,81.2L11.7,78.8L10.1,76.5Z" fill="#ff0000" stroke="#ff0000" stroke-width="0.5" stroke-linejoin="round"/></g></g>
<g shape-rendering="crispEdges"><g transform="translate(5,410)"><path d="M20.4,24.5L23.6,22.9L26.8,24.5L30.4,29.3L32.5,25.7L35.7,25.1L38.9,27.7L39.3,31.7L38.1,34.2L40.5,35.8L42.9,38.2L42.1,42.2L38.9,43.8L35.7,43.4L32.5,41.4L28.0,38.2L23.6,35.8L21.6,31.3L20.0,27.3Z" fill="url(#spk)"/><path d="M13.3,75.0L14.5,72.6L16.8,71.1L19.5,72.3L21.8,74.2L23.8,76.9L24.4,75.7L24.9,73.4L26.5,71.5L29.2,70.9L31.9,72.3L32.4,75.0L31.9,78.1L32.3,81.2L31.9,83.5L32.7,85.4L34.2,86.2L36.9,84.6L39.2,84.6L40.8,83.5L43.1,83.1L44.7,83.9L46.6,84.6L47.8,86.6L48.1,90.5L47.4,92.8L46.2,94.3L48.1,95.9L49.3,98.2L48.5,101.3L47.8,103.6L48.9,106.7L49.3,109.0L47.8,112.1L44.7,113.7L42.3,113.7L39.2,111.4L36.9,109.0L35.4,106.7L35.0,108.3L35.0,110.2L33.0,112.5L29.9,113.7L26.9,112.5L24.9,110.2L24.5,107.5L23.4,105.2L22.2,105.9L19.9,106.7L17.6,105.9L16.0,103.6L16.4,101.3L15.6,98.6L12.9,99.7L10.6,99.0L8.7,96.6L7.5,94.3L7.9,92.0L6.7,89.7L6.3,86.6L7.5,83.9L9.8,82.3L12.1,81.9L14.5,82.3L16.4,83.3L16.0,81.2L14.9,78.8L13.3,76.5Z" fill="url(#spk)"/><path d="M51.0,38.1L51.4,47.8L49.8,49.4L42.1,50.2L42.5,46.2L46.6,42.9Z" fill="url(#spk)"/><path d="M42.1,50.2L50.6,48.6L53.8,49.4L59.5,53.4L61.1,57.5L60.3,59.9L56.2,58.3L51.4,56.2L47.4,55.0L44.1,52.6Z" fill="url(#spk)"/><path d="M47.9,13.8L49.0,11.1L52.1,9.9L56.0,10.7L59.2,13.5L60.5,15.5L61.2,18.0L61.8,13.0L63.8,10.3L66.9,9.9L69.9,11.1L71.5,14.2L71.6,16.5L71.2,19.5L73.8,17.5L76.9,16.9L79.6,18.5L80.4,21.2L79.8,23.5L78.2,26.0L82.3,23.9L86.2,24.6L88.5,27.0L88.1,30.1L85.2,32.0L89.3,33.5L89.3,37.0L87.8,39.0L84.7,38.6L82.3,39.0L79.7,41.0L81.6,43.6L83.1,46.7L83.1,49.8L80.8,52.1L78.5,52.5L76.1,50.6L74.6,49.0L73.4,48.0L72.3,51.4L69.2,52.9L66.1,52.1L64.1,49.8L63.8,45.2L63.8,40.5L63.0,38.2L59.9,37.4L58.7,38.8L57.6,37.2L56.4,39.4L55.2,37.4L53.8,39.9L52.4,37.6L51.2,39.7L49.8,38.2L47.9,35.1L47.5,32.0L49.6,30.2L47.5,25.8L47.9,22.7L49.2,19.6L47.5,16.5Z" fill="url(#spk)"/><path d="M36.0,64.9L38.8,64.1L42.9,66.1L46.1,67.3L49.3,66.9L53.0,69.8L54.2,73.0L47.7,73.4L42.9,74.2L40.5,72.6L37.6,69.4Z" fill="url(#spk)"/><path d="M46.1,74.2L54.6,74.2L55.0,75.8L53.4,79.0L50.1,82.3L46.1,84.7Z" fill="url(#spk)"/><path d="M54.0,83.9L55.4,80.6L59.4,79.4L63.0,80.6L65.9,82.3L71.9,83.9L72.7,87.9L74.3,90.3L76.7,95.2L76.3,98.4L72.7,100.8L69.5,97.6L67.9,95.2L65.5,96.8L62.2,97.6L58.6,95.6L57.8,92.7L59.8,89.5L58.2,87.9L55.0,86.7Z" fill="url(#spk)"/></g><g transform="translate(93,410)"><path d="M20.4,24.5L23.6,22.9L26.8,24.5L30.4,29.3L32.5,25.7L35.7,25.1L38.9,27.7L39.3,31.7L38.1,34.2L40.5,35.8L42.9,38.2L42.1,42.2L38.9,43.8L35.7,43.4L32.5,41.4L28.0,38.2L23.6,35.8L21.6,31.3L20.0,27.3Z" fill="url(#spk)"/><path d="M10.1,75.0L11.3,72.6L13.6,71.1L16.3,72.3L18.6,74.2L20.6,76.9L21.2,75.7L21.7,73.4L23.3,71.5L26.0,70.9L28.7,72.3L29.2,75.0L28.7,78.1L29.1,81.2L28.7,83.5L29.5,85.4L31.0,86.2L33.7,84.6L36.0,84.6L37.6,83.5L39.9,83.1L41.5,83.9L43.4,84.6L44.6,86.6L44.9,90.5L44.2,92.8L43.0,94.3L44.9,95.9L46.1,98.2L45.3,101.3L44.6,103.6L45.7,106.7L46.1,109.0L44.6,112.1L41.5,113.7L39.1,113.7L36.0,111.4L33.7,109.0L32.2,106.7L31.8,108.3L31.8,110.2L29.8,112.5L26.7,113.7L23.7,112.5L21.7,110.2L21.3,107.5L20.2,105.2L19.0,105.9L16.7,106.7L14.4,105.9L12.8,103.6L13.2,101.3L12.4,98.6L9.7,99.7L7.4,99.0L5.5,96.6L4.3,94.3L4.7,92.0L3.5,89.7L3.1,86.6L4.3,83.9L6.6,82.3L8.9,81.9L11.3,82.3L13.2,83.3L12.8,81.2L11.7,78.8L10.1,76.5Z" fill="url(#spk)"/><path d="M51.0,38.1L51.4,47.8L49.8,49.4L42.1,50.2L42.5,46.2L46.6,42.9Z" fill="url(#spk)"/><path d="M42.1,50.2L50.6,48.6L53.8,49.4L59.5,53.4L61.1,57.5L60.3,59.9L56.2,58.3L51.4,56.2L47.4,55.0L44.1,52.6Z" fill="url(#spk)"/><path d="M48.7,13.8L49.8,11.1L52.9,9.9L56.8,10.7L60.0,13.5L61.3,15.5L62.0,18.0L62.6,13.0L64.6,10.3L67.7,9.9L70.7,11.1L72.3,14.2L72.4,16.5L72.0,19.5L74.6,17.5L77.7,16.9L80.4,18.5L81.2,21.2L80.6,23.5L79.0,26.0L83.1,23.9L87.0,24.6L89.3,27.0L88.9,30.1L86.0,32.0L90.1,33.5L90.1,37.0L88.6,39.0L85.5,38.6L83.1,39.0L80.5,41.0L82.4,43.6L83.9,46.7L83.9,49.8L81.6,52.1L79.3,52.5L76.9,50.6L75.4,49.0L74.2,48.0L73.1,51.4L70.0,52.9L66.9,52.1L64.9,49.8L64.6,45.2L64.6,40.5L63.8,38.2L60.7,37.4L59.5,38.8L58.4,37.2L57.2,39.4L56.0,37.4L54.6,39.9L53.2,37.6L52.0,39.7L50.6,38.2L48.7,35.1L48.3,32.0L50.4,30.2L48.3,25.8L48.7,22.7L50.0,19.6L48.3,16.5Z" fill="url(#spk)"/><path d="M34.2,64.9L37.0,64.1L41.1,66.1L44.3,67.3L47.5,66.9L51.2,69.8L52.4,73.0L45.9,73.4L41.1,74.2L38.7,72.6L35.8,69.4Z" fill="url(#spk)"/><path d="M44.3,74.2L52.8,74.2L53.2,75.8L51.6,79.0L48.3,82.3L44.3,84.7Z" fill="url(#spk)"/><path d="M52.2,83.9L53.6,80.6L57.6,79.4L61.2,80.6L64.1,82.3L70.1,83.9L70.9,87.9L72.5,90.3L74.9,95.2L74.5,98.4L70.9,100.8L67.7,97.6L66.1,95.2L63.7,96.8L60.4,97.6L56.8,95.6L56.0,92.7L58.0,89.5L56.4,87.9L53.2,86.7Z" fill="url(#spk)"/></g><g transform="translate(180,410)"><path d="M20.4,24.5L23.6,22.9L26.8,24.5L30.4,29.3L32.5,25.7L35.7,25.1L38.9,27.7L39.3,31.7L38.1,34.2L40.5,35.8L42.9,38.2L42.1,42.2L38.9,43.8L35.7,43.4L32.5,41.4L28.0,38.2L23.6,35.8L21.6,31.3L20.0,27.3Z" fill="url(#spk)"/><path d="M11.5,75.0L12.7,72.6L15.0,71.1L17.7,72.3L20.0,74.2L22.0,76.9L22.6,75.7L23.1,73.4L24.7,71.5L27.4,70.9L30.1,72.3L30.6,75.0L30.1,78.1L30.5,81.2L30.1,83.5L30.9,85.4L32.4,86.2L35.1,84.6L37.4,84.6L39.0,83.5L41.3,83.1L42.9,83.9L44.8,84.6L46.0,86.6L46.3,90.5L45.6,92.8L44.4,94.3L46.3,95.9L47.5,98.2L46.7,101.3L46.0,103.6L47.1,106.7L47.5,109.0L46.0,112.1L42.9,113.7L40.5,113.7L37.4,111.4L35.1,109.0L33.6,106.7L33.2,108.3L33.2,110.2L31.2,112.5L28.1,113.7L25.1,112.5L23.1,110.2L22.7,107.5L21.6,105.2L20.4,105.9L18.1,106.7L15.8,105.9L14.2,103.6L14.6,101.3L13.8,98.6L11.1,99.7L8.8,99.0L6.9,96.6L5.7,94.3L6.1,92.0L4.9,89.7L4.5,86.6L5.7,83.9L8.0,82.3L10.3,81.9L12.7,82.3L14.6,83.3L14.2,81.2L13.1,78.8L11.5,76.5Z" fill="url(#spk)"/><path d="M51.0,38.1L51.4,47.8L49.8,49.4L42.1,50.2L42.5,46.2L46.6,42.9Z" fill="url(#spk)"/><path d="M42.1,50.2L50.6,48.6L53.8,49.4L59.5,53.4L61.1,57.5L60.3,59.9L56.2,58.3L51.4,56.2L47.4,55.0L44.1,52.6Z" fill="url(#spk)"/><path d="M48.7,13.8L49.8,11.1L52.9,9.9L56.8,10.7L60.0,13.5L61.3,15.5L62.0,18.0L62.6,13.0L64.6,10.3L67.7,9.9L70.7,11.1L72.3,14.2L72.4,16.5L72.0,19.5L74.6,17.5L77.7,16.9L80.4,18.5L81.2,21.2L80.6,23.5L79.0,26.0L83.1,23.9L87.0,24.6L89.3,27.0L88.9,30.1L86.0,32.0L90.1,33.5L90.1,37.0L88.6,39.0L85.5,38.6L83.1,39.0L80.5,41.0L82.4,43.6L83.9,46.7L83.9,49.8L81.6,52.1L79.3,52.5L76.9,50.6L75.4,49.0L74.2,48.0L73.1,51.4L70.0,52.9L66.9,52.1L64.9,49.8L64.6,45.2L64.6,40.5L63.8,38.2L60.7,37.4L59.5,38.8L58.4,37.2L57.2,39.4L56.0,37.4L54.6,39.9L53.2,37.6L52.0,39.7L50.6,38.2L48.7,35.1L48.3,32.0L50.4,30.2L48.3,25.8L48.7,22.7L50.0,19.6L48.3,16.5Z" fill="url(#spk)"/><path d="M34.2,64.9L37.0,64.1L41.1,66.1L44.3,67.3L47.5,66.9L51.2,69.8L52.4,73.0L45.9,73.4L41.1,74.2L38.7,72.6L35.8,69.4Z" fill="url(#spk)"/><path d="M44.3,74.2L52.8,74.2L53.2,75.8L51.6,79.0L48.3,82.3L44.3,84.7Z" fill="url(#spk)"/><path d="M52.2,83.9L53.6,80.6L57.6,79.4L61.2,80.6L64.1,82.3L70.1,83.9L70.9,87.9L72.5,90.3L74.9,95.2L74.5,98.4L70.9,100.8L67.7,97.6L66.1,95.2L63.7,96.8L60.4,97.6L56.8,95.6L56.0,92.7L58.0,89.5L56.4,87.9L53.2,86.7Z" fill="url(#spk)"/></g><g transform="translate(268,410)"><path d="M20.4,24.5L23.6,22.9L26.8,24.5L30.4,29.3L32.5,25.7L35.7,25.1L38.9,27.7L39.3,31.7L38.1,34.2L40.5,35.8L42.9,38.2L42.1,42.2L38.9,43.8L35.7,43.4L32.5,41.4L28.0,38.2L23.6,35.8L21.6,31.3L20.0,27.3Z" fill="url(#spk)"/><path d="M10.1,75.0L11.3,72.6L13.6,71.1L16.3,72.3L18.6,74.2L20.6,76.9L21.2,75.7L21.7,73.4L23.3,71.5L26.0,70.9L28.7,72.3L29.2,75.0L28.7,78.1L29.1,81.2L28.7,83.5L29.5,85.4L31.0,86.2L33.7,84.6L36.0,84.6L37.6,83.5L39.9,83.1L41.5,83.9L43.4,84.6L44.6,86.6L44.9,90.5L44.2,92.8L43.0,94.3L44.9,95.9L46.1,98.2L45.3,101.3L44.6,103.6L45.7,106.7L46.1,109.0L44.6,112.1L41.5,113.7L39.1,113.7L36.0,111.4L33.7,109.0L32.2,106.7L31.8,108.3L31.8,110.2L29.8,112.5L26.7,113.7L23.7,112.5L21.7,110.2L21.3,107.5L20.2,105.2L19.0,105.9L16.7,106.7L14.4,105.9L12.8,103.6L13.2,101.3L12.4,98.6L9.7,99.7L7.4,99.0L5.5,96.6L4.3,94.3L4.7,92.0L3.5,89.7L3.1,86.6L4.3,83.9L6.6,82.3L8.9,81.9L11.3,82.3L13.2,83.3L12.8,81.2L11.7,78.8L10.1,76.5Z" fill="url(#spk)"/><path d="M51.0,38.1L51.4,47.8L49.8,49.4L42.1,50.2L42.5,46.2L46.6,42.9Z" fill="url(#spk)"/><path d="M42.1,50.2L50.6,48.6L53.8,49.4L59.5,53.4L61.1,57.5L60.3,59.9L56.2,58.3L51.4,56.2L47.4,55.0L44.1,52.6Z" fill="url(#spk)"/><path d="M48.7,13.8L49.8,11.1L52.9,9.9L56.8,10.7L60.0,13.5L61.3,15.5L62.0,18.0L62.6,13.0L64.6,10.3L67.7,9.9L70.7,11.1L72.3,14.2L72.4,16.5L72.0,19.5L74.6,17.5L77.7,16.9L80.4,18.5L81.2,21.2L80.6,23.5L79.0,26.0L83.1,23.9L87.0,24.6L89.3,27.0L88.9,30.1L86.0,32.0L90.1,33.5L90.1,37.0L88.6,39.0L85.5,38.6L83.1,39.0L80.5,41.0L82.4,43.6L83.9,46.7L83.9,49.8L81.6,52.1L79.3,52.5L76.9,50.6L75.4,49.0L74.2,48.0L73.1,51.4L70.0,52.9L66.9,52.1L64.9,49.8L64.6,45.2L64.6,40.5L63.8,38.2L60.7,37.4L59.5,38.8L58.4,37.2L57.2,39.4L56.0,37.4L54.6,39.9L53.2,37.6L52.0,39.7L50.6,38.2L48.7,35.1L48.3,32.0L50.4,30.2L48.3,25.8L48.7,22.7L50.0,19.6L48.3,16.5Z" fill="url(#spk)"/><path d="M34.2,64.9L37.0,64.1L41.1,66.1L44.3,67.3L47.5,66.9L51.2,69.8L52.4,73.0L45.9,73.4L41.1,74.2L38.7,72.6L35.8,69.4Z" fill="url(#spk)"/><path d="M44.3,74.2L52.8,74.2L53.2,75.8L51.6,79.0L48.3,82.3L44.3,84.7Z" fill="url(#spk)"/><path d="M52.2,83.9L53.6,80.6L57.6,79.4L61.2,80.6L64.1,82.3L70.1,83.9L70.9,87.9L72.5,90.3L74.9,95.2L74.5,98.4L70.9,100.8L67.7,97.6L66.1,95.2L63.7,96.8L60.4,97.6L56.8,95.6L56.0,92.7L58.0,89.5L56.4,87.9L53.2,86.7Z" fill="url(#spk)"/></g><g transform="translate(355,410)"><path d="M20.4,24.5L23.6,22.9L26.8,24.5L30.4,29.3L32.5,25.7L35.7,25.1L38.9,27.7L39.3,31.7L38.1,34.2L40.5,35.8L42.9,38.2L42.1,42.2L38.9,43.8L35.7,43.4L32.5,41.4L28.0,38.2L23.6,35.8L21.6,31.3L20.0,27.3Z" fill="url(#spk)"/><path d="M10.1,75.0L11.3,72.6L13.6,71.1L16.3,72.3L18.6,74.2L20.6,76.9L21.2,75.7L21.7,73.4L23.3,71.5L26.0,70.9L28.7,72.3L29.2,75.0L28.7,78.1L29.1,81.2L28.7,83.5L29.5,85.4L31.0,86.2L33.7,84.6L36.0,84.6L37.6,83.5L39.9,83.1L41.5,83.9L43.4,84.6L44.6,86.6L44.9,90.5L44.2,92.8L43.0,94.3L44.9,95.9L46.1,98.2L45.3,101.3L44.6,103.6L45.7,106.7L46.1,109.0L44.6,112.1L41.5,113.7L39.1,113.7L36.0,111.4L33.7,109.0L32.2,106.7L31.8,108.3L31.8,110.2L29.8,112.5L26.7,113.7L23.7,112.5L21.7,110.2L21.3,107.5L20.2,105.2L19.0,105.9L16.7,106.7L14.4,105.9L12.8,103.6L13.2,101.3L12.4,98.6L9.7,99.7L7.4,99.0L5.5,96.6L4.3,94.3L4.7,92.0L3.5,89.7L3.1,86.6L4.3,83.9L6.6,82.3L8.9,81.9L11.3,82.3L13.2,83.3L12.8,81.2L11.7,78.8L10.1,76.5Z" fill="url(#spk)"/></g></g></g>
<g shape-rendering="crispEdges"><g transform="translate(5,410)"><circle cx="26.4" cy="39.4" r="2.4" fill="#009900"/><circle cx="29.9" cy="89.7" r="3.1" fill="#009900"/><path d="M63.9,31.8L67.1,29.8L70.3,31.4L72.8,34.6L70.3,37.9L66.3,37.9L63.9,35.5Z" fill="#0000ff" stroke="#0000ff" stroke-width="0.5" stroke-linejoin="round"/><path d="M65.9,82.3L69.5,82.3L72.7,84.7L72.7,87.9L70.3,89.9L67.1,87.9L65.0,85.5Z" fill="#0000ff" stroke="#0000ff" stroke-width="0.5" stroke-linejoin="round"/></g><g transform="translate(93,410)"><circle cx="26.4" cy="39.4" r="2.4" fill="#0000ff"/><circle cx="26.7" cy="89.7" r="3.1" fill="#0000ff"/><path d="M64.7,31.8L67.9,29.8L71.1,31.4L73.6,34.6L71.1,37.9L67.1,37.9L64.7,35.5Z" fill="#ff0000" stroke="#ff0000" stroke-width="0.5" stroke-linejoin="round"/><path d="M64.1,82.3L67.7,82.3L70.9,84.7L70.9,87.9L68.5,89.9L65.3,87.9L63.2,85.5Z" fill="#ff0000" stroke="#ff0000" stroke-width="0.5" stroke-linejoin="round"/></g><g transform="translate(180,410)"><circle cx="26.4" cy="39.4" r="2.4" fill="#ff0000"/><circle cx="28.1" cy="89.7" r="3.1" fill="#ff0000"/><path d="M64.7,31.8L67.9,29.8L71.1,31.4L73.6,34.6L71.1,37.9L67.1,37.9L64.7,35.5Z" fill="#009900" stroke="#009900" stroke-width="0.5" stroke-linejoin="round"/><path d="M64.1,82.3L67.7,82.3L70.9,84.7L70.9,87.9L68.5,89.9L65.3,87.9L63.2,85.5Z" fill="#009900" stroke="#009900" stroke-width="0.5" stroke-linejoin="round"/></g><g transform="translate(268,410)"><circle cx="26.4" cy="39.4" r="2.4" fill="#009900"/><circle cx="26.7" cy="89.7" r="3.1" fill="#009900"/><path d="M64.7,31.8L67.9,29.8L71.1,31.4L73.6,34.6L71.1,37.9L67.1,37.9L64.7,35.5Z" fill="#0000ff" stroke="#0000ff" stroke-width="0.5" stroke-linejoin="round"/><path d="M64.1,82.3L67.7,82.3L70.9,84.7L70.9,87.9L68.5,89.9L65.3,87.9L63.2,85.5Z" fill="#0000ff" stroke="#0000ff" stroke-width="0.5" stroke-linejoin="round"/></g><g transform="translate(355,410)"><circle cx="26.4" cy="39.4" r="2.4" fill="#0000ff"/><circle cx="26.7" cy="89.7" r="3.1" fill="#0000ff"/></g></g>
<rect x="34" y="89" width="1" height="769" fill="#00ff00"/>
<rect x="119" y="89" width="1" height="769" fill="#ff0000"/>
<rect x="3" y="446" width="403" height="1" fill="#ff0000"/>
<rect x="3" y="498" width="403" height="1" fill="#00ff00"/>
<text x="39.5" y="96" font-family="'Liberation Sans',sans-serif" font-size="8" fill="#00ff00">1</text>
<text x="8.5" y="497" font-family="'Liberation Sans',sans-serif" font-size="8" fill="#00ff00">1</text>
<text x="123.5" y="856" font-family="'Liberation Sans',sans-serif" font-size="9.5" fill="#ff0000">2</text>
<text x="395.5" y="445" font-family="'Liberation Sans',sans-serif" font-size="9.5" fill="#ff0000">2</text>
<path transform="translate(481.0,739.0) scale(2.243)" d="M0,0h7v1h-7zM8,0h2v1h-2zM12,0h1v1h-1zM15,0h1v1h-1zM20,0h2v1h-2zM23,0h6v1h-6zM30,0h7v1h-7zM0,1h1v1h-1zM6,1h1v1h-1zM8,1h1v1h-1zM13,1h2v1h-2zM16,1h1v1h-1zM18,1h2v1h-2zM22,1h3v1h-3zM27,1h2v1h-2zM30,1h1v1h-1zM36,1h1v1h-1zM0,2h1v1h-1zM2,2h3v1h-3zM6,2h1v1h-1zM8,2h5v1h-5zM14,2h1v1h-1zM16,2h2v1h-2zM19,2h4v1h-4zM24,2h1v1h-1zM26,2h2v1h-2zM30,2h1v1h-1zM32,2h3v1h-3zM36,2h1v1h-1zM0,3h1v1h-1zM2,3h3v1h-3zM6,3h1v1h-1zM9,3h1v1h-1zM11,3h1v1h-1zM13,3h1v1h-1zM16,3h2v1h-2zM19,3h2v1h-2zM24,3h1v1h-1zM26,3h3v1h-3zM30,3h1v1h-1zM32,3h3v1h-3zM36,3h1v1h-1zM0,4h1v1h-1zM2,4h3v1h-3zM6,4h1v1h-1zM10,4h3v1h-3zM14,4h1v1h-1zM16,4h1v1h-1zM24,4h1v1h-1zM28,4h1v1h-1zM30,4h1v1h-1zM32,4h3v1h-3zM36,4h1v1h-1zM0,5h1v1h-1zM6,5h1v1h-1zM8,5h1v1h-1zM10,5h1v1h-1zM12,5h3v1h-3zM16,5h1v1h-1zM19,5h3v1h-3zM23,5h2v1h-2zM27,5h1v1h-1zM30,5h1v1h-1zM36,5h1v1h-1zM0,6h7v1h-7zM8,6h1v1h-1zM10,6h1v1h-1zM12,6h1v1h-1zM14,6h1v1h-1zM16,6h1v1h-1zM18,6h1v1h-1zM20,6h1v1h-1zM22,6h1v1h-1zM24,6h1v1h-1zM26,6h1v1h-1zM28,6h1v1h-1zM30,6h7v1h-7zM8,7h1v1h-1zM10,7h2v1h-2zM13,7h2v1h-2zM19,7h1v1h-1zM22,7h1v1h-1zM25,7h2v1h-2zM2,8h3v1h-3zM6,8h1v1h-1zM8,8h1v1h-1zM10,8h2v1h-2zM13,8h3v1h-3zM18,8h2v1h-2zM21,8h1v1h-1zM23,8h2v1h-2zM26,8h2v1h-2zM33,8h1v1h-1zM35,8h2v1h-2zM0,9h5v1h-5zM7,9h4v1h-4zM16,9h1v1h-1zM20,9h1v1h-1zM23,9h1v1h-1zM26,9h1v1h-1zM28,9h1v1h-1zM30,9h1v1h-1zM33,9h4v1h-4zM0,10h1v1h-1zM3,10h1v1h-1zM6,10h1v1h-1zM10,10h1v1h-1zM13,10h2v1h-2zM16,10h1v1h-1zM18,10h1v1h-1zM20,10h2v1h-2zM23,10h3v1h-3zM27,10h2v1h-2zM35,10h1v1h-1zM4,11h1v1h-1zM10,11h1v1h-1zM12,11h1v1h-1zM14,11h1v1h-1zM16,11h2v1h-2zM19,11h2v1h-2zM24,11h1v1h-1zM29,11h4v1h-4zM36,11h1v1h-1zM1,12h1v1h-1zM3,12h1v1h-1zM5,12h4v1h-4zM10,12h1v1h-1zM12,12h2v1h-2zM15,12h1v1h-1zM18,12h2v1h-2zM21,12h3v1h-3zM25,12h1v1h-1zM31,12h1v1h-1zM36,12h1v1h-1zM4,13h1v1h-1zM10,13h1v1h-1zM12,13h5v1h-5zM19,13h1v1h-1zM22,13h1v1h-1zM26,13h1v1h-1zM32,13h1v1h-1zM35,13h2v1h-2zM0,14h5v1h-5zM6,14h1v1h-1zM13,14h1v1h-1zM16,14h1v1h-1zM18,14h4v1h-4zM23,14h1v1h-1zM25,14h1v1h-1zM28,14h2v1h-2zM32,14h1v1h-1zM34,14h3v1h-3zM0,15h2v1h-2zM3,15h1v1h-1zM9,15h1v1h-1zM11,15h2v1h-2zM14,15h1v1h-1zM18,15h1v1h-1zM22,15h1v1h-1zM24,15h3v1h-3zM28,15h2v1h-2zM31,15h2v1h-2zM34,15h1v1h-1zM3,16h2v1h-2zM6,16h1v1h-1zM8,16h2v1h-2zM15,16h2v1h-2zM20,16h4v1h-4zM25,16h1v1h-1zM27,16h2v1h-2zM32,16h4v1h-4zM1,17h2v1h-2zM7,17h2v1h-2zM10,17h1v1h-1zM13,17h1v1h-1zM17,17h3v1h-3zM21,17h2v1h-2zM24,17h1v1h-1zM26,17h1v1h-1zM28,17h2v1h-2zM31,17h2v1h-2zM35,17h2v1h-2zM0,18h1v1h-1zM2,18h2v1h-2zM6,18h1v1h-1zM9,18h1v1h-1zM11,18h3v1h-3zM16,18h7v1h-7zM28,18h1v1h-1zM31,18h2v1h-2zM2,19h1v1h-1zM5,19h1v1h-1zM9,19h1v1h-1zM11,19h1v1h-1zM14,19h2v1h-2zM19,19h2v1h-2zM23,19h1v1h-1zM28,19h1v1h-1zM3,20h4v1h-4zM8,20h5v1h-5zM14,20h3v1h-3zM19,20h3v1h-3zM24,20h5v1h-5zM31,20h4v1h-4zM36,20h1v1h-1zM2,21h2v1h-2zM9,21h3v1h-3zM14,21h1v1h-1zM17,21h1v1h-1zM20,21h4v1h-4zM27,21h4v1h-4zM35,21h1v1h-1zM0,22h1v1h-1zM2,22h1v1h-1zM6,22h2v1h-2zM9,22h3v1h-3zM15,22h1v1h-1zM17,22h1v1h-1zM19,22h1v1h-1zM21,22h1v1h-1zM24,22h1v1h-1zM26,22h5v1h-5zM32,22h1v1h-1zM34,22h3v1h-3zM3,23h2v1h-2zM8,23h2v1h-2zM12,23h1v1h-1zM14,23h2v1h-2zM17,23h3v1h-3zM21,23h2v1h-2zM24,23h1v1h-1zM28,23h1v1h-1zM30,23h3v1h-3zM35,23h2v1h-2zM2,24h6v1h-6zM9,24h1v1h-1zM14,24h5v1h-5zM24,24h3v1h-3zM28,24h2v1h-2zM34,24h1v1h-1zM1,25h1v1h-1zM3,25h1v1h-1zM9,25h1v1h-1zM12,25h3v1h-3zM17,25h1v1h-1zM19,25h3v1h-3zM23,25h1v1h-1zM28,25h1v1h-1zM33,25h1v1h-1zM35,25h1v1h-1zM0,26h1v1h-1zM3,26h1v1h-1zM5,26h3v1h-3zM11,26h1v1h-1zM14,26h1v1h-1zM17,26h5v1h-5zM23,26h1v1h-1zM25,26h1v1h-1zM27,26h1v1h-1zM29,26h1v1h-1zM31,26h1v1h-1zM34,26h2v1h-2zM3,27h1v1h-1zM7,27h2v1h-2zM13,27h1v1h-1zM15,27h2v1h-2zM22,27h1v1h-1zM24,27h3v1h-3zM28,27h2v1h-2zM32,27h5v1h-5zM4,28h1v1h-1zM6,28h1v1h-1zM10,28h1v1h-1zM12,28h1v1h-1zM15,28h5v1h-5zM22,28h2v1h-2zM25,28h2v1h-2zM28,28h7v1h-7zM9,29h1v1h-1zM11,29h2v1h-2zM14,29h1v1h-1zM18,29h1v1h-1zM21,29h4v1h-4zM26,29h3v1h-3zM32,29h1v1h-1zM35,29h2v1h-2zM0,30h7v1h-7zM9,30h1v1h-1zM11,30h2v1h-2zM14,30h2v1h-2zM17,30h2v1h-2zM20,30h1v1h-1zM23,30h2v1h-2zM26,30h1v1h-1zM28,30h1v1h-1zM30,30h1v1h-1zM32,30h1v1h-1zM0,31h1v1h-1zM6,31h1v1h-1zM8,31h2v1h-2zM13,31h3v1h-3zM17,31h2v1h-2zM23,31h6v1h-6zM32,31h1v1h-1zM36,31h1v1h-1zM0,32h1v1h-1zM2,32h3v1h-3zM6,32h1v1h-1zM8,32h1v1h-1zM10,32h3v1h-3zM16,32h4v1h-4zM21,32h2v1h-2zM25,32h2v1h-2zM28,32h9v1h-9zM0,33h1v1h-1zM2,33h3v1h-3zM6,33h1v1h-1zM9,33h2v1h-2zM13,33h2v1h-2zM16,33h2v1h-2zM22,33h2v1h-2zM25,33h1v1h-1zM27,33h3v1h-3zM31,33h6v1h-6zM0,34h1v1h-1zM2,34h3v1h-3zM6,34h1v1h-1zM8,34h5v1h-5zM15,34h3v1h-3zM19,34h1v1h-1zM23,34h4v1h-4zM28,34h1v1h-1zM31,34h5v1h-5zM0,35h1v1h-1zM6,35h1v1h-1zM9,35h3v1h-3zM13,35h2v1h-2zM16,35h6v1h-6zM26,35h1v1h-1zM29,35h1v1h-1zM34,35h1v1h-1zM36,35h1v1h-1zM0,36h7v1h-7zM8,36h3v1h-3zM12,36h5v1h-5zM21,36h7v1h-7zM29,36h5v1h-5zM36,36h1v1h-1z" fill="#4f4f4f"/>
<rect x="510.6" y="767.8" width="25" height="24.8" fill="#fff"/><rect x="511.8" y="768.9" width="22.7" height="22.5" rx="1.6" fill="#f4524f"/><rect x="513.3" y="770.4" width="19.7" height="19.5" fill="none" stroke="#fff" stroke-width="0.5" opacity="0.85"/>
<g><title>以</title><text x="514.3" y="778.6" font-family="'Liberation Sans','Noto Sans CJK SC',sans-serif" font-weight="bold" font-size="8.6" fill="#fff">以</text></g>
<g><title>图</title><text x="514.3" y="787.8" font-family="'Liberation Sans','Noto Sans CJK SC',sans-serif" font-weight="bold" font-size="8.6" fill="#fff">图</text></g>
<g><title>搜</title><text x="523.3" y="778.6" font-family="'Liberation Sans','Noto Sans CJK SC',sans-serif" font-weight="bold" font-size="8.6" fill="#fff">搜</text></g>
<g><title>版</title><text x="523.3" y="787.8" font-family="'Liberation Sans','Noto Sans CJK SC',sans-serif" font-weight="bold" font-size="8.6" fill="#fff">版</text></g>
<g><path d="M496.5,832.8 Q530,821.0 574,838.8 Q534,827.2 496.5,832.8Z" fill="#ee7c8a" stroke="#fff" stroke-width="1.6" stroke-opacity="0.7" paint-order="stroke"/><text x="476" y="847.6" font-family="Liberation Sans, sans-serif" font-weight="bold" font-size="22" fill="#ee7c8a" stroke="#fbe3e6" stroke-width="2.4" paint-order="stroke" textLength="97" lengthAdjust="spacingAndGlyphs">6xiu.com</text><text x="476" y="847.6" font-family="Liberation Sans, sans-serif" font-weight="bold" font-size="22" fill="#ee7c8a" stroke="#ee7c8a" stroke-width="0.7" textLength="97" lengthAdjust="spacingAndGlyphs">6xiu.com</text></g>
</svg>
<div id="txt">
<span class="t" style="top:24.86px;font-size:9px;line-height:10.341px;color:#000;left:6.20px;">Wilcom</span>
<span class="t" style="top:24.86px;font-size:9px;line-height:10.341px;color:#000;left:37.30px;">(</span>
<span class="t" style="top:24.86px;font-size:9px;line-height:10.341px;color:#000;left:62.20px;">)</span>
<span class="t" style="top:62.86px;font-size:9px;line-height:10.341px;color:#000;left:27.20px;">:</span>
<span class="t" style="top:62.86px;font-size:9px;line-height:10.341px;color:#000;left:35.00px;">1971229.dst</span>
<span class="t" style="top:76.36px;font-size:9px;line-height:10.341px;color:#000;left:27.20px;">:</span>
<span class="t" style="top:76.36px;font-size:9px;line-height:10.341px;color:#000;left:35.50px;">Colorway 1</span>
<span class="t" style="top:6.55px;font-size:9px;line-height:10.341px;color:#000;left:564.60px;">:</span>
<span class="t" style="top:6.55px;font-size:9px;line-height:10.341px;color:#000;left:570.60px;">5706</span>
<span class="t" style="top:19.55px;font-size:9px;line-height:10.341px;color:#000;left:564.60px;">:</span>
<span class="t" style="top:19.55px;font-size:9px;line-height:10.341px;color:#000;left:570.60px;">4</span>
<span class="t" style="top:32.66px;font-size:9px;line-height:10.341px;color:#000;left:564.60px;">:</span>
<span class="t" style="top:32.66px;font-size:9px;line-height:10.341px;color:#000;left:570.60px;">62.6 mm</span>
<span class="t" style="top:45.75px;font-size:9px;line-height:10.341px;color:#000;left:564.60px;">:</span>
<span class="t" style="top:45.75px;font-size:9px;line-height:10.341px;color:#000;left:570.60px;">239.9 mm</span>
<span class="t" style="top:59.06px;font-size:9px;line-height:10.341px;color:#000;left:564.60px;">:</span>
<span class="t" style="top:59.06px;font-size:9px;line-height:10.341px;color:#000;left:570.60px;">0.55</span>
<span class="t" style="top:90.26px;font-size:9px;line-height:10.341px;color:#000;left:452.60px;">:</span>
<span class="t" style="top:101.95px;font-size:10px;line-height:11.490px;color:#000;left:409.60px;font-weight:bold;text-decoration:underline;text-underline-offset:0.6px;text-decoration-thickness:1px;">#</span>
<span class="t" style="top:101.95px;font-size:10px;line-height:11.490px;color:#000;left:422.30px;font-weight:bold;letter-spacing:0.3px;text-decoration:underline;text-underline-offset:0.6px;text-decoration-thickness:1px;">N#</span>
<span class="t" style="top:101.95px;font-size:10px;line-height:11.490px;color:#000;right:147.00px;font-weight:bold;letter-spacing:0.5px;text-decoration:underline;text-underline-offset:0.6px;text-decoration-thickness:1px;">St.</span>
<span class="t" style="top:101.95px;font-size:10px;line-height:11.490px;color:#000;left:557.30px;font-weight:bold;text-decoration:underline;text-underline-offset:0.6px;text-decoration-thickness:1px;">Brand</span>
<span class="t" style="top:116.95px;font-size:9px;line-height:10.341px;color:#000;left:409.60px;">1.</span>
<span class="t" style="top:116.95px;font-size:9px;line-height:10.341px;color:#000;left:422.60px;">1</span>
<span class="t" style="top:116.95px;font-size:9px;line-height:10.341px;color:#000;right:148.40px;">1913</span>
<span class="t" style="top:116.95px;font-size:9px;line-height:10.341px;color:#000;right:122.60px;">1</span>
<span class="t" style="top:116.95px;font-size:9px;line-height:10.341px;color:#000;left:503.00px;">Dark Green</span>
<span class="t" style="top:116.95px;font-size:9px;line-height:10.341px;color:#000;left:557.20px;">Default</span>
<span class="t" style="top:129.95px;font-size:9px;line-height:10.341px;color:#000;left:409.60px;">2.</span>
<span class="t" style="top:129.95px;font-size:9px;line-height:10.341px;color:#000;left:422.60px;">2</span>
<span class="t" style="top:129.95px;font-size:9px;line-height:10.341px;color:#000;right:148.40px;">2033</span>
<span class="t" style="top:129.95px;font-size:9px;line-height:10.341px;color:#000;right:122.60px;">2</span>
<span class="t" style="top:129.95px;font-size:9px;line-height:10.341px;color:#000;left:503.00px;">Blue</span>
<span class="t" style="top:129.95px;font-size:9px;line-height:10.341px;color:#000;left:557.20px;">Default</span>
<span class="t" style="top:142.95px;font-size:9px;line-height:10.341px;color:#000;left:409.60px;">3.</span>
<span class="t" style="top:142.95px;font-size:9px;line-height:10.341px;color:#000;left:422.60px;">3</span>
<span class="t" style="top:142.95px;font-size:9px;line-height:10.341px;color:#000;right:148.40px;">1758</span>
<span class="t" style="top:142.95px;font-size:9px;line-height:10.341px;color:#000;right:122.60px;">3</span>
<span class="t" style="top:142.95px;font-size:9px;line-height:10.341px;color:#000;left:503.00px;">Red</span>
<span class="t" style="top:142.95px;font-size:9px;line-height:10.341px;color:#000;left:557.20px;">Default</span>
<span class="t" style="top:155.95px;font-size:9px;line-height:10.341px;color:#000;left:409.60px;">4.</span>
<span class="t" style="top:155.95px;font-size:9px;line-height:10.341px;color:#000;left:422.60px;">4</span>
<span class="t" style="top:155.95px;font-size:9px;line-height:10.341px;color:#000;right:148.40px;">0</span>
<span class="t" style="top:155.95px;font-size:9px;line-height:10.341px;color:#000;right:122.60px;">4</span>
<span class="t" style="top:155.95px;font-size:9px;line-height:10.341px;color:#000;left:503.00px;">Yellow</span>
<span class="t" style="top:155.95px;font-size:9px;line-height:10.341px;color:#000;left:557.20px;">Default</span>
</div>
</body></html>
